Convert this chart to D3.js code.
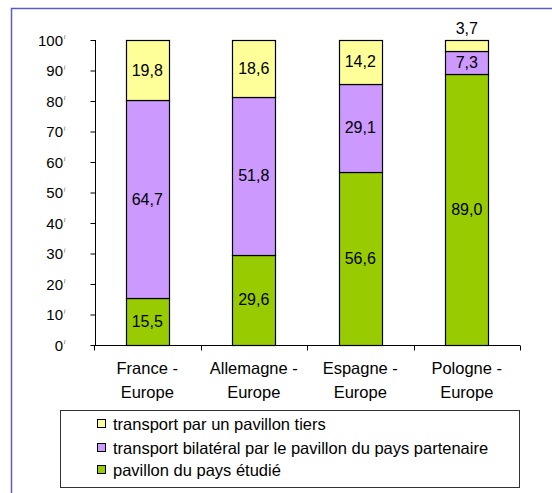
<!DOCTYPE html>
<html>
<head>
<meta charset="utf-8">
<script src="https://cdn.jsdelivr.net/npm/d3@7"></script>
<style>
  body { margin: 0; background: #fff; }
  text { font-family: "Liberation Sans", Arial, sans-serif; fill: #000; }
</style>
</head>
<body>
<div id="chart"></div>
<script>
var svgWidth = 552;
var svgHeight = 493;

// data
var categories = ["France - Europe", "Allemagne - Europe", "Espagne - Europe", "Pologne - Europe"];
var pavillonEtudie = [15.5, 29.6, 56.6, 89.0];
var bilateral = [64.7, 51.8, 29.1, 7.3];
var tiers = [19.8, 18.6, 14.2, 3.7];
var seriesNames = ["pavillon du pays étudié", "transport bilatéral par le pavillon du pays partenaire", "transport par un pavillon tiers"];
var seriesColors = ["#99cc00", "#cc99ff", "#ffff99"];
var yTicks = [0, 10, 20, 30, 40, 50, 60, 70, 80, 90, 100];

var svg = d3.select("#chart")
  .append("svg")
  .attr("width", svgWidth)
  .attr("height", svgHeight);

// outer frame
svg.append("rect")
  .attr("x", 11.5)
  .attr("y", 8.5)
  .attr("width", 600)
  .attr("height", 600)
  .attr("fill", "none")
  .attr("stroke", "#5c5cc4")
  .attr("stroke-width", 1.5);

var xScale = d3.scaleBand()
  .domain(categories)
  .range([94, 520])
  .paddingInner(0.6)
  .paddingOuter(0.3);

var yScale = d3.scaleLinear()
  .domain([0, 100])
  .range([345, 40]);

// build stacked table
var table = categories.map(function(c, i) {
  return { cat: c, s0: pavillonEtudie[i], s1: bilateral[i], s2: tiers[i] };
});
var stack = d3.stack().keys(["s0", "s1", "s2"])(table);

// y axis
var leftAxis = d3.axisLeft(yScale).tickValues(yTicks).tickSize(5).tickFormat("");
var yAxisG = svg.append("g")
  .attr("transform", "translate(95.5,0)")
  .call(leftAxis);
yAxisG.select(".domain").attr("stroke", "#000").attr("d", "M0,40V345.5");
yAxisG.selectAll(".tick line").attr("stroke", "#000");

// y tick labels (with the clipped percent mark)
svg.append("g").selectAll("text")
  .data(yTicks)
  .enter()
  .append("text")
  .attr("x", 63)
  .attr("y", function(d) { return yScale(d) + 5.5; })
  .attr("text-anchor", "end")
  .style("font-size", "15px")
  .text(function(d) { return d; });
svg.append("g").selectAll("line")
  .data(yTicks)
  .enter()
  .append("line")
  .attr("x1", 65).attr("x2", 64.5)
  .attr("y1", function(d) { return yScale(d) - 5; })
  .attr("y2", function(d) { return yScale(d) - 1; })
  .attr("stroke", "#888")
  .attr("stroke-width", 0.8);

// x axis
var bottomAxis = d3.axisBottom(xScale).tickSize(0).tickFormat("");
var xAxisG = svg.append("g")
  .attr("transform", "translate(0,345.5)")
  .call(bottomAxis);
xAxisG.select(".domain").attr("stroke", "#000").attr("d", "M94,0H520");
var step = xScale.step();
var boundaries = d3.range(categories.length + 1).map(function(i) { return 94 + i * step; });
xAxisG.selectAll(".bnd")
  .data(boundaries)
  .enter()
  .append("line")
  .attr("class", "bnd")
  .attr("x1", function(d) { return Math.round(d) + 0.5; })
  .attr("x2", function(d) { return Math.round(d) + 0.5; })
  .attr("y1", 0)
  .attr("y2", 5)
  .attr("stroke", "#000");

// bars
var layers = svg.append("g").selectAll("g")
  .data(stack)
  .enter()
  .append("g")
  .attr("fill", function(d, i) { return seriesColors[i]; });

layers.selectAll("rect")
  .data(function(d) { return d; })
  .enter()
  .append("rect")
  .attr("x", function(d) { return Math.round(xScale(d.data.cat)) + 0.5; })
  .attr("y", function(d) { return Math.round(yScale(d[1])) + 0.5; })
  .attr("width", Math.round(xScale.bandwidth()))
  .attr("height", function(d) { return Math.round(yScale(d[0])) - Math.round(yScale(d[1])); })
  .attr("stroke", "#000")
  .attr("stroke-width", 1.2);

// value labels
layers.selectAll("text")
  .data(function(d) { return d; })
  .enter()
  .append("text")
  .attr("x", function(d) { return xScale(d.data.cat) + xScale.bandwidth() / 2; })
  .attr("y", function(d) {
    var v = d[1] - d[0];
    if (v < 5) return yScale(d[1]) - 6;
    return yScale((d[0] + d[1]) / 2) + 5.5;
  })
  .attr("text-anchor", "middle")
  .style("font-size", "16px")
  .style("fill", "#000")
  .text(function(d) { return (d[1] - d[0]).toFixed(1).replace(".", ","); });

// category labels
svg.append("g").selectAll("text")
  .data(categories)
  .enter()
  .append("text")
  .attr("text-anchor", "middle")
  .style("font-size", "16.5px")
  .each(function(d) {
    var parts = d.split(" - ");
    var cx = xScale(d) + xScale.bandwidth() / 2;
    d3.select(this).append("tspan").attr("x", cx).attr("y", 374).text(parts[0] + " -");
    d3.select(this).append("tspan").attr("x", cx).attr("y", 398).text(parts[1]);
  });

// legend
var legend = svg.append("g");
legend.append("rect")
  .attr("x", 60.5)
  .attr("y", 410.5)
  .attr("width", 459)
  .attr("height", 77)
  .attr("fill", "#fff")
  .attr("stroke", "#333")
  .attr("stroke-width", 1);

var legendOrder = [2, 1, 0];
var legendRows = legend.selectAll(".lg")
  .data(legendOrder)
  .enter()
  .append("g")
  .attr("class", "lg")
  .attr("transform", function(d, i) { return "translate(0," + [424, 448, 470][i] + ")"; });

legendRows.append("rect")
  .attr("x", 97.5)
  .attr("y", -4.5)
  .attr("width", 8)
  .attr("height", 8)
  .attr("fill", function(d) { return seriesColors[d]; })
  .attr("stroke", "#000");

legendRows.append("text")
  .attr("x", 113)
  .attr("y", 6)
  .style("font-size", "16.5px")
  .text(function(d) { return seriesNames[d]; });
</script>
</body>
</html>
